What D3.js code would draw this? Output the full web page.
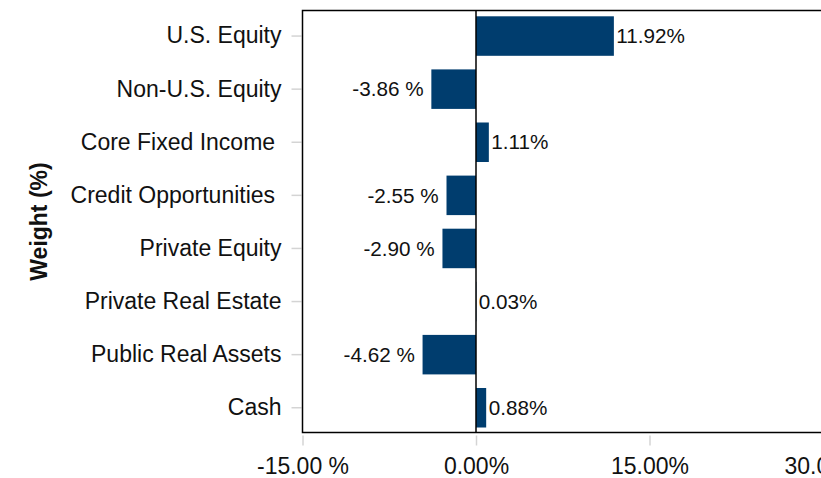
<!DOCTYPE html>
<html>
<head>
<meta charset="utf-8">
<script src="https://cdn.jsdelivr.net/npm/d3@7"></script>
<style>
  html, body { margin: 0; padding: 0; background: #fff; }
  svg { display: block; font-family: "Liberation Sans", Arial, sans-serif; }
  text { white-space: pre; }
</style>
</head>
<body>
<svg id="chart" width="821" height="478"></svg>
<script>
// Asset classes and their active weights (%)
const categories = ["U.S. Equity", "Non-U.S. Equity", "Core Fixed Income ", "Credit Opportunities ",
  "Private Equity", "Private Real Estate", "Public Real Assets", "Cash"];
const weights = [11.92, -3.86, 1.11, -2.55, -2.90, 0.03, -4.62, 0.88];
const xTickValues = [-15, 0, 15, 30];
const xTickLabels = ["-15.00 %", "0.00%", "15.00%", "30.00%"];

const svg = d3.select("#chart");
const plotLeft = 302.5, plotRight = 823, plotTop = 10.5, plotBottom = 432.5;
const barColor = "#003D6E";
const textColor = "#111";

const x = d3.scaleLinear().domain([-15, 30]).range([plotLeft, plotRight]);
const y = d3.scaleBand().domain(categories).range([9.5, 434.3])
  .paddingInner(0.256).paddingOuter(0.128);

// Plain hyphen for negatives, with a spaced percent sign
const locale = d3.formatLocale({ decimal: ".", thousands: ",", grouping: [3], currency: ["", ""], minus: "-" });
const f2 = locale.format(".2f");
const fmtLabel = v => v < 0 ? f2(v) + " % " : f2(v) + "%";

// Category axis
const yAxis = svg.append("g").attr("transform", `translate(${plotLeft - 1},0)`)
  .call(d3.axisLeft(y).tickSize(10).tickPadding(10));
yAxis.select(".domain").remove();
yAxis.selectAll(".tick line").attr("stroke", "#d4d4d4").attr("stroke-width", 1.5);
yAxis.selectAll(".tick text").attr("font-size", 23).attr("fill", textColor)
  .attr("font-family", "Liberation Sans, Arial, sans-serif");

// Value axis
const xAxis = svg.append("g").attr("transform", `translate(0,${plotBottom + 3})`)
  .call(d3.axisBottom(x).tickValues(xTickValues)
    .tickFormat((d, i) => xTickLabels[i]).tickSize(10).tickPadding(12));
xAxis.select(".domain").remove();
xAxis.selectAll(".tick line").attr("stroke", "#d4d4d4").attr("stroke-width", 1.5);
xAxis.selectAll(".tick text").attr("font-size", 23).attr("fill", textColor)
  .attr("font-family", "Liberation Sans, Arial, sans-serif");

// Bars
svg.append("g").selectAll("rect").data(weights).join("rect")
  .attr("x", d => x(Math.min(0, d)))
  .attr("y", (d, i) => y(categories[i]))
  .attr("width", d => Math.abs(x(d) - x(0)))
  .attr("height", y.bandwidth())
  .attr("fill", barColor);

// Value labels
svg.append("g").selectAll("text").data(weights).join("text")
  .attr("x", d => d < 0 ? x(d) - 2 : x(d) + 2.5)
  .attr("y", (d, i) => y(categories[i]) + y.bandwidth() / 2)
  .attr("dy", "0.35em")
  .attr("text-anchor", d => d < 0 ? "end" : "start")
  .attr("font-size", 20.7).attr("fill", textColor)
  .text(fmtLabel);

// Plot frame and zero line
svg.append("rect").attr("x", plotLeft).attr("y", plotTop)
  .attr("width", plotRight - plotLeft).attr("height", plotBottom - plotTop)
  .attr("fill", "none").attr("stroke", "#000").attr("stroke-width", 1.5);
svg.append("line").attr("x1", x(0)).attr("x2", x(0)).attr("y1", plotTop).attr("y2", plotBottom)
  .attr("stroke", "#000").attr("stroke-width", 1.5);

// Axis title
svg.append("text")
  .attr("transform", `translate(47,${(plotTop + plotBottom) / 2}) rotate(-90)`)
  .attr("text-anchor", "middle")
  .attr("font-size", 23).attr("font-weight", "bold").attr("fill", textColor)
  .text("Weight (%)");
</script>
</body>
</html>
